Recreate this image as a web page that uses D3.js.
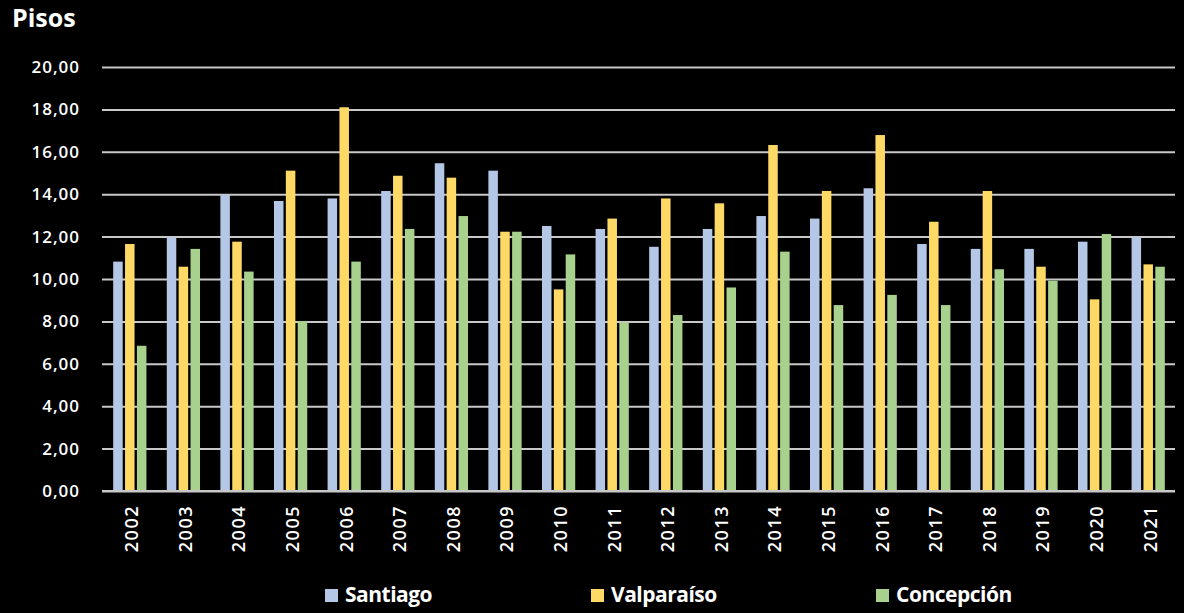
<!DOCTYPE html>
<html>
<head>
<meta charset="utf-8">
<script src="https://cdn.jsdelivr.net/npm/d3@7"></script>
<style>
  body { margin: 0; background: #000; }
  svg { display: block; }
</style>
</head>
<body>
<div id="chart"></div>
<script>
// data
var years = ["2002","2003","2004","2005","2006","2007","2008","2009","2010","2011",
             "2012","2013","2014","2015","2016","2017","2018","2019","2020","2021"];
var series = ["Santiago", "Valparaíso", "Concepción"];
var santiago   = [10.82, 11.97, 13.96, 13.68, 13.80, 14.15, 15.46, 15.11, 12.50, 12.36,
                  11.52, 12.36, 12.97, 12.85, 14.28, 11.65, 11.42, 11.42, 11.76, 11.97];
var valparaiso = [11.65, 10.58, 11.76, 15.11, 18.10, 14.87, 14.78, 12.23, 9.51, 12.85,
                  13.80, 13.57, 16.32, 14.15, 16.79, 12.70, 14.15, 10.58, 9.04, 10.69];
var concepcion = [6.85, 11.42, 10.35, 8.02, 10.82, 12.36, 12.97, 12.23, 11.16, 7.96,
                  8.30, 9.60, 11.29, 8.77, 9.25, 8.77, 10.46, 9.92, 12.12, 10.58];
var yTicks = [0, 2, 4, 6, 8, 10, 12, 14, 16, 18, 20];
var colors = ["#b4c7e7", "#ffd966", "#a9d18e"];

var w = 1184, h = 613;
var padL = 102, padR = 1175, padT = 67, padB = 491;

var table = years.map(function(y, i) {
  return { year: y, vals: [santiago[i], valparaiso[i], concepcion[i]] };
});

var svg = d3.select("#chart").append("svg")
  .attr("width", w).attr("height", h)
  .style("background", "#000");

var x0 = d3.scaleBand().domain(years).range([103, padR])
  .paddingInner(0.38).paddingOuter(0.19);
var x1 = d3.scaleBand().domain(d3.range(3)).range([0, x0.bandwidth()])
  .paddingInner(0.2);
var yScale = d3.scaleLinear().domain([0, 20]).range([padB, padT]);

var loc = d3.formatLocale({ decimal: ",", thousands: ".", grouping: [3], currency: ["", ""] });
var fmt = loc.format(".2f");

// gridlines + y labels
var gy = svg.append("g")
  .attr("transform", "translate(" + padL + ",0)")
  .call(d3.axisLeft(yScale).tickValues(yTicks).tickFormat(fmt)
        .tickSize(-(padR - padL)).tickPadding(22));
gy.select(".domain").remove();
gy.selectAll(".tick line").attr("stroke", "#c8c8c8").attr("stroke-width", 2);
gy.selectAll(".tick text")
  .attr("fill", "#fff")
  .style("font-family", "Open Sans")
  .style("font-weight", 600)
  .style("font-size", "17px")
  .style("letter-spacing", "1px");

// bars
var groups = svg.append("g").selectAll("g")
  .data(table).enter().append("g")
  .attr("transform", function(d) { return "translate(" + x0(d.year) + ",0)"; });

groups.selectAll("rect")
  .data(function(d) { return d.vals; })
  .enter().append("rect")
  .attr("x", function(d, i) { return x1(i); })
  .attr("y", function(d) { return yScale(d); })
  .attr("width", x1.bandwidth())
  .attr("height", function(d) { return padB - yScale(d); })
  .attr("fill", function(d, i) { return colors[i]; });

// x axis
var gx = svg.append("g")
  .attr("transform", "translate(0," + padB + ")")
  .call(d3.axisBottom(x0).tickSize(0).tickSizeOuter(0));
gx.select(".domain").attr("stroke", "#c8c8c8").attr("stroke-width", 2)
  .attr("d", "M" + padL + ",0H" + padR);
gx.selectAll(".tick text")
  .attr("fill", "#fff")
  .attr("transform", "rotate(-90)")
  .attr("x", -14)
  .attr("y", 2)
  .attr("dy", "0.35em")
  .attr("text-anchor", "end")
  .style("font-family", "Open Sans")
  .style("font-weight", 600)
  .style("font-size", "18px")
  .style("letter-spacing", "1.5px");

// title
svg.append("text")
  .attr("x", 12).attr("y", 27)
  .attr("fill", "#fff")
  .style("font-family", "Open Sans")
  .style("font-weight", 700)
  .style("font-size", "25px")
  .text("Pisos");

// legend
var legX = [325, 591, 876];
var leg = svg.append("g").selectAll("g")
  .data(series).enter().append("g")
  .attr("transform", function(d, i) { return "translate(" + legX[i] + ",589)"; });
leg.append("rect")
  .attr("width", 13).attr("height", 13)
  .attr("fill", function(d, i) { return colors[i]; });
leg.append("text")
  .attr("x", 20).attr("y", 13)
  .attr("fill", "#fff")
  .style("font-family", "Open Sans")
  .style("font-weight", 700)
  .style("font-size", "21px")
  .style("letter-spacing", "-0.5px")
  .text(function(d) { return d; });
</script>
</body>
</html>
